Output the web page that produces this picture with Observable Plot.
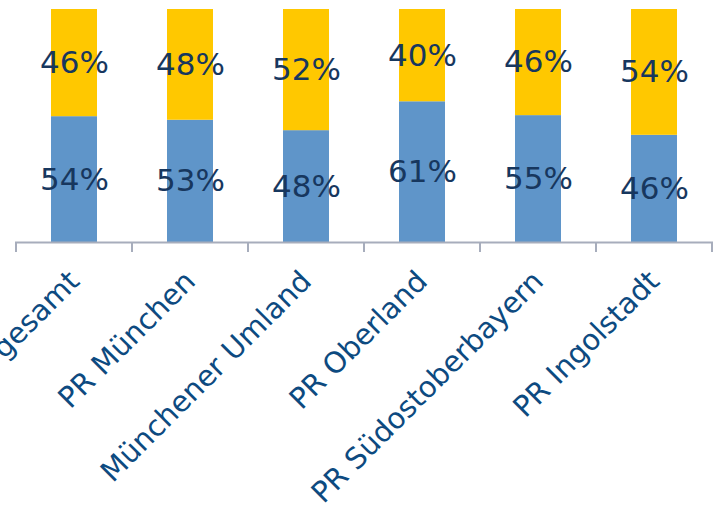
<!DOCTYPE html>
<html><head><meta charset="utf-8">
<script src="https://cdn.jsdelivr.net/npm/d3@7"></script>
<script src="https://cdn.jsdelivr.net/npm/@observablehq/plot@0.6"></script>
<style>body{margin:0;background:#fff} svg{display:block}</style>
</head><body><div id="chart"></div>
<script>
const categories = ["Oberbayern gesamt","PR München","Münchener Umland","PR Oberland","PR Südostoberbayern","PR Ingolstadt"];
const seriesNames = ["Anteil A","Anteil B"];
const valuesBlue = [54,53,48,61,55,46];
const valuesYellow = [46,48,52,40,46,54];
const colors = ["#5F95C9","#FFC800"];

const data = [];
[valuesBlue, valuesYellow].forEach((vals,i)=>{
  categories.forEach((c,j)=>data.push({category:c, series:seriesNames[i], value:vals[j]}));
});

const plot = Plot.plot({
  width:721, height:505, marginTop:9, marginLeft:15, marginRight:8, marginBottom:263,
  style:{fontFamily:"DejaVu Sans", background:"#fff"},
  x:{domain:categories, paddingInner:0.6, paddingOuter:0.3, label:null, axis:null},
  y:{domain:[0,1], axis:null},
  color:{domain:seriesNames, range:colors},
  marks:[
    Plot.barY(data, Plot.stackY({offset:"normalize", x:"category", y:"value", fill:"series"})),
    Plot.text(data, Plot.stackY({offset:"normalize", x:"category", y:"value", z:"series", text:d=>d.value+"%", fill:"#17375E", fontSize:31})),
    Plot.ruleY([0], {stroke:"#A7ADBC", strokeWidth:2}),
    Plot.axisX({tickSize:0, tickRotate:-45, tickPadding:34, fontSize:29, fill:"#0D4A80", label:null})
  ]
});

const xs = plot.scale("x");
const ys = plot.scale("y");
const y0 = ys.apply(0);
const off = (xs.step - xs.bandwidth)/2;
const bounds = categories.map(c => xs.apply(c) - off);
bounds.push(xs.apply(categories[categories.length-1]) - off + xs.step);
const g = d3.select(plot).append("g").attr("stroke","#A7ADBC").attr("stroke-width",2);
bounds.forEach(b => g.append("line").attr("x1",b).attr("x2",b).attr("y1",y0).attr("y2",y0+10));

document.getElementById("chart").appendChild(plot);
</script>
</body></html>
